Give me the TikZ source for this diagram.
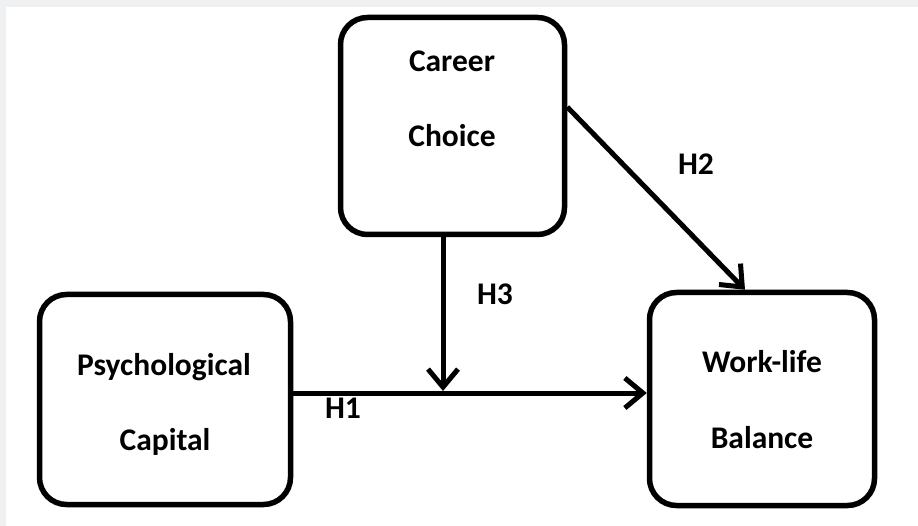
\documentclass[tikz,border=0pt]{standalone}
\usepackage{fontspec}
\setmainfont{Carlito}
\usetikzlibrary{arrows.meta}
\definecolor{edgegray}{HTML}{EFF0F2}
\tikzset{
  box/.style={draw=black, line width=5.5pt, rounded corners=27pt, fill=white, inner sep=0pt},
  lbl/.style={font=\fontsize{31.5}{36}\selectfont\bfseries, anchor=base, inner sep=0pt},
  conn/.style={line width=5pt, draw=black, -{Straight Barb[length=18pt,width=30pt,line width=5pt]}},
}
\begin{document}
\begin{tikzpicture}[x=1pt,y=-1pt]
\useasboundingbox (0,0) rectangle (918,526);
\fill[white] (0,0) rectangle (918,526);
\fill[edgegray] (0,0) rectangle (918,7);
\fill[edgegray] (0,0) rectangle (6,526);

\node[box, minimum width=224pt, minimum height=217pt] (cc) at (452.5,126) {};
\node[box, minimum width=251pt, minimum height=210pt] (pc) at (165,399.5) {};
\node[box, minimum width=225pt, minimum height=213pt] (wl) at (762,399) {};

\node[lbl] (cc1) at (452,72) {Career};
\node[lbl] (cc2) at (452,147) {Choice};
\node[lbl] (pc1) at (164,375) {Psychological};
\node[lbl] (pc2) at (165,450) {Capital};
\node[lbl] (wl1) at (762,373) {Work-life};
\node[lbl] (wl2) at (762,448) {Balance};

\coordinate (j) at (443,393);
\draw[conn] (pc.east |- j) -- (wl.west |- j);
\draw[conn, shorten >=2pt] (cc.south -| j) -- (j);
\draw[conn] ([yshift=19pt]cc.east) -- ([xshift=-17pt]wl.north);

\node[lbl] (h1) at (343,418) {H1};
\node[lbl] (h2) at (696,175) {H2};
\node[lbl] (h3) at (495,305) {H3};
\end{tikzpicture}
\end{document}
